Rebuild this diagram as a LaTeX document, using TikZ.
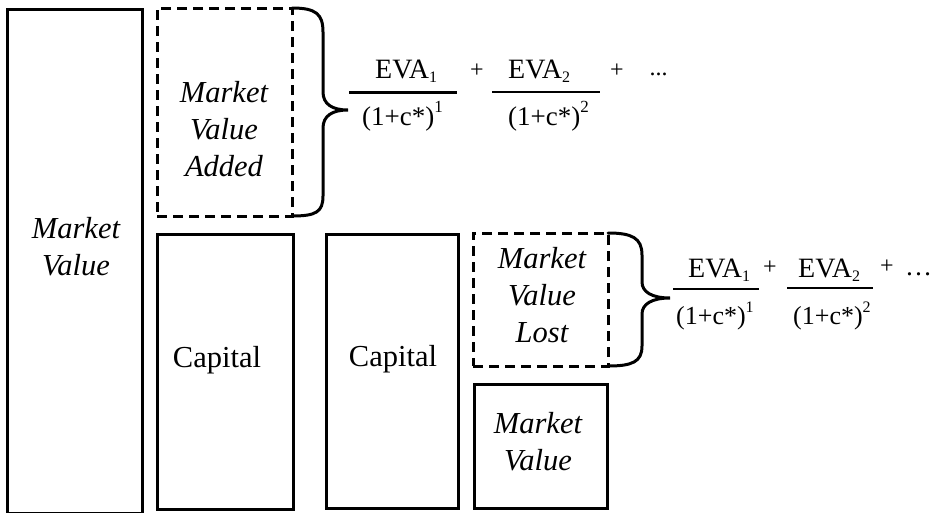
\documentclass[tikz,border=0pt]{standalone}
\usepackage{fontspec}
\setmainfont{Liberation Serif}
\begin{document}
\begin{tikzpicture}[x=1pt,y=-1pt,
  box/.style={draw, line width=3pt, rectangle, inner sep=0pt, outer sep=0pt},
  dbox/.style={box, dash pattern=on 10pt off 6pt},
  lbl/.style={inner sep=0pt, align=center, anchor=north, font=\fontsize{30.5}{37}\selectfont\itshape},
  captxt/.style={inner sep=0pt, anchor=base, font=\fontsize{30.5}{37}\selectfont},
  numtxt/.style={inner sep=0pt, anchor=base west, font=\fontsize{28}{30}\selectfont},
  dentxt/.style={inner sep=0pt, anchor=base west, font=\fontsize{27}{30}\selectfont},
  dentxtb/.style={inner sep=0pt, anchor=base west, font=\fontsize{26}{30}\selectfont},
  optxt/.style={inner sep=0pt, anchor=base, font=\fontsize{24}{26}\selectfont},
  fline/.style={line width=2.5pt},
  bracestyle/.style={line width=3pt, line cap=round}]
\useasboundingbox (0,0) rectangle (946,512);
% boxes
\node[box, minimum width=135pt, minimum height=504pt] (bigmv) at (74.5,261) {};
\node[dbox, minimum width=135pt, minimum height=208pt] (mva) at (224.5,112) {};
\node[box, minimum width=136pt, minimum height=275pt] (cap1) at (225,372) {};
\node[box, minimum width=132pt, minimum height=274pt] (cap2) at (392.5,371) {};
\node[dbox, minimum width=135pt, minimum height=133pt] (mvl) at (540.5,299.5) {};
\node[box, minimum width=133pt, minimum height=124pt] (smv) at (540.5,446) {};
% labels
\node[lbl] (tbigmv) at (76,217) {Market\\Value};
\node[lbl] (tmva) at (224,81) {Market\\Value\\Added};
\node[lbl] (tmvl) at (542,247) {Market\\Value\\Lost};
\node[lbl] (tsmv) at (538,412) {Market\\Value};
\node[captxt] (tcap1) at (217,367) {Capital};
\node[captxt] (tcap2) at (393,366) {Capital};
% braces
\draw[bracestyle] (292,8) .. controls (316,8) and (323,14) .. (323,32) -- (323,92)
  .. controls (323,104) and (332,110) .. (348,110)
  .. controls (332,110) and (323,116) .. (323,128) -- (323,196)
  .. controls (323,212) and (316,216) .. (292,216);
\draw[bracestyle] (608,233) .. controls (632,233) and (642,238) .. (642,255) -- (642,282)
  .. controls (642,292) and (652,298) .. (670,298)
  .. controls (652,298) and (642,304) .. (642,314) -- (642,346)
  .. controls (642,362) and (632,366) .. (608,366);
% top formula
\node[numtxt] (n1) at (375,78) {EVA\raisebox{-4pt}{\fontsize{16}{16}\selectfont 1}};
\node[numtxt] (n2) at (508,78) {EVA\raisebox{-4pt}{\fontsize{16}{16}\selectfont 2}};
\draw[fline] (349,92.5) -- (457,92.5);
\draw[fline] (492,92) -- (600,92);
\node[dentxt] (d1) at (362,125) {(1+c*)\raisebox{13pt}{\fontsize{17}{17}\selectfont 1}};
\node[dentxt] (d2) at (508,125) {(1+c*)\raisebox{13pt}{\fontsize{17}{17}\selectfont 2}};
\node[optxt] (p1) at (477,77) {+};
\node[optxt] (p2) at (617,77) {+};
\node[optxt] (e1) at (658.5,75) {...};
% second formula
\node[numtxt] (m1) at (688,277) {EVA\raisebox{-4pt}{\fontsize{16}{16}\selectfont 1}};
\node[numtxt] (m2) at (798,277) {EVA\raisebox{-4pt}{\fontsize{16}{16}\selectfont 2}};
\draw[fline] (673,289) -- (759,289);
\draw[fline] (787,288) -- (873,288);
\node[dentxtb] (f1) at (676,324) {(1+c*)\raisebox{12pt}{\fontsize{16}{16}\selectfont 1}};
\node[dentxtb] (f2) at (793,324) {(1+c*)\raisebox{12pt}{\fontsize{16}{16}\selectfont 2}};
\node[optxt] (q1) at (770,274) {+};
\node[optxt] (q2) at (887,273) {+};
\node[optxt, font=\fontsize{27}{30}\selectfont] (g1) at (918.5,275) {…};
\end{tikzpicture}
\end{document}
